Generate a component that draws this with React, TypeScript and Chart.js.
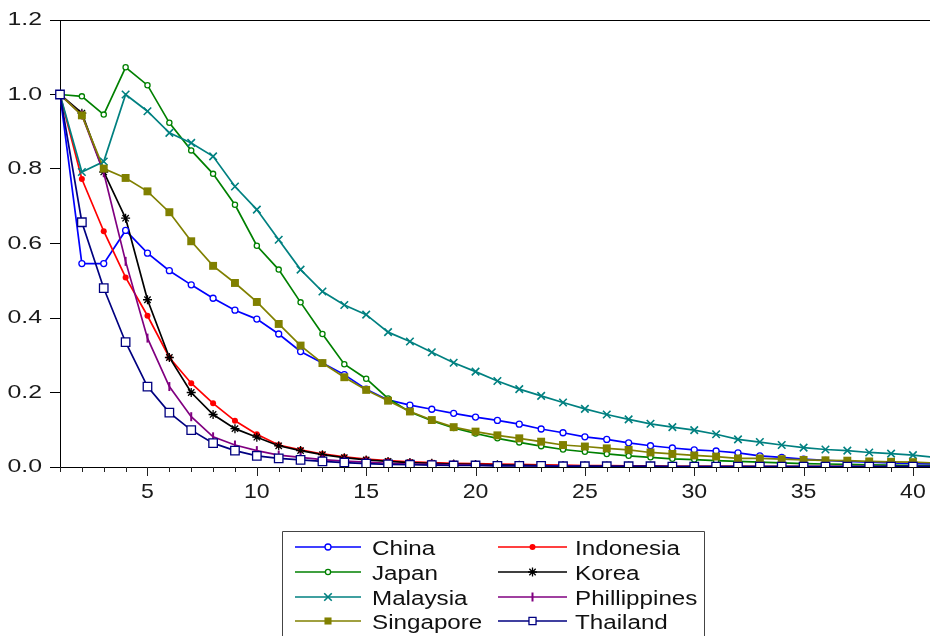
import React, { useEffect, useRef } from "react";
import { Chart, registerables } from "chart.js";

Chart.register(...registerables);

const xValues = [1, 2, 3, 4, 5, 6, 7, 8, 9, 10, 11, 12, 13, 14, 15, 16, 17, 18, 19, 20, 21, 22, 23, 24, 25, 26, 27, 28, 29, 30, 31, 32, 33, 34, 35, 36, 37, 38, 39, 40, 41];
const yTicks = [0, 0.2, 0.4, 0.6, 0.8, 1.0, 1.2];
const xLabelTicks = [5, 10, 15, 20, 25, 30, 35, 40];

const china = [1.0, 0.546, 0.546, 0.635, 0.574, 0.527, 0.489, 0.453, 0.421, 0.397, 0.357, 0.31, 0.279, 0.248, 0.209, 0.18, 0.166, 0.155, 0.144, 0.134, 0.125, 0.115, 0.102, 0.092, 0.081, 0.074, 0.065, 0.057, 0.051, 0.046, 0.043, 0.038, 0.03, 0.026, 0.021, 0.018, 0.015, 0.013, 0.011, 0.009, 0.008];
const indonesia = [1.0, 0.773, 0.633, 0.509, 0.406, 0.294, 0.225, 0.171, 0.124, 0.088, 0.059, 0.046, 0.035, 0.027, 0.021, 0.017, 0.014, 0.012, 0.01, 0.009, 0.008, 0.007, 0.006, 0.005, 0.004, 0.004, 0.003, 0.003, 0.002, 0.002, 0.002, 0.002, 0.001, 0.001, 0.001, 0.001, 0.001, 0.001, 0.001, 0.001, 0.0];
const japan = [1.0, 0.995, 0.946, 1.073, 1.025, 0.924, 0.85, 0.787, 0.704, 0.594, 0.53, 0.442, 0.357, 0.276, 0.237, 0.184, 0.148, 0.124, 0.105, 0.09, 0.077, 0.066, 0.056, 0.047, 0.041, 0.035, 0.03, 0.026, 0.022, 0.02, 0.017, 0.015, 0.013, 0.011, 0.009, 0.008, 0.007, 0.006, 0.005, 0.004, 0.004];
const korea = [1.0, 0.95, 0.792, 0.668, 0.449, 0.294, 0.2, 0.141, 0.103, 0.08, 0.057, 0.044, 0.033, 0.025, 0.019, 0.015, 0.012, 0.01, 0.008, 0.007, 0.006, 0.005, 0.004, 0.003, 0.003, 0.002, 0.002, 0.002, 0.001, 0.001, 0.001, 0.001, 0.001, 0.001, 0.001, 0.001, 0.001, 0.001, 0.001, 0.001, 0.001];
const malaysia = [1.0, 0.792, 0.82, 1.0, 0.955, 0.897, 0.87, 0.834, 0.753, 0.691, 0.61, 0.53, 0.471, 0.435, 0.409, 0.362, 0.337, 0.308, 0.28, 0.256, 0.231, 0.209, 0.191, 0.173, 0.156, 0.141, 0.128, 0.116, 0.107, 0.099, 0.088, 0.074, 0.067, 0.059, 0.052, 0.047, 0.044, 0.039, 0.036, 0.032, 0.026];
const philippines = [1.0, 0.945, 0.79, 0.552, 0.346, 0.216, 0.135, 0.081, 0.059, 0.044, 0.032, 0.026, 0.02, 0.016, 0.013, 0.01, 0.008, 0.007, 0.006, 0.005, 0.004, 0.004, 0.003, 0.003, 0.002, 0.002, 0.002, 0.002, 0.001, 0.001, 0.001, 0.001, 0.001, 0.001, 0.001, 0.001, 0.001, 0.001, 0.001, 0.001, 0.001];
const singapore = [1.0, 0.944, 0.801, 0.776, 0.74, 0.684, 0.606, 0.54, 0.494, 0.443, 0.384, 0.326, 0.279, 0.241, 0.207, 0.178, 0.149, 0.126, 0.107, 0.095, 0.085, 0.077, 0.068, 0.059, 0.055, 0.05, 0.046, 0.039, 0.035, 0.031, 0.028, 0.023, 0.023, 0.021, 0.019, 0.018, 0.017, 0.015, 0.014, 0.013, 0.011];
const thailand = [1.0, 0.657, 0.48, 0.335, 0.216, 0.146, 0.099, 0.064, 0.044, 0.03, 0.023, 0.019, 0.015, 0.012, 0.009, 0.007, 0.006, 0.005, 0.004, 0.004, 0.003, 0.003, 0.003, 0.002, 0.002, 0.002, 0.002, 0.002, 0.001, 0.001, 0.001, 0.001, 0.001, 0.001, 0.001, 0.001, 0.001, 0.001, 0.001, 0.001, 0.001];

type Marker = "circle" | "dot" | "star" | "crossRot" | "vline" | "fillRect" | "openRect";

const series: { name: string; values: number[]; color: string; marker: Marker; r: number }[] = [
  { name: "China", values: china, color: "#0000FF", marker: "circle", r: 3 },
  { name: "Indonesia", values: indonesia, color: "#FF0000", marker: "dot", r: 3 },
  { name: "Japan", values: japan, color: "#008000", marker: "circle", r: 2.6 },
  { name: "Korea", values: korea, color: "#000000", marker: "star", r: 4.5 },
  { name: "Malaysia", values: malaysia, color: "#008080", marker: "crossRot", r: 5 },
  { name: "Phillippines", values: philippines, color: "#800080", marker: "vline", r: 4.5 },
  { name: "Singapore", values: singapore, color: "#808000", marker: "fillRect", r: 5.6 },
  { name: "Thailand", values: thailand, color: "#000080", marker: "openRect", r: 6 },
];

const FONT = "'Liberation Sans', Arial, sans-serif";

function drawMarker(ctx: CanvasRenderingContext2D, m: Marker, x: number, y: number, r: number, color: string) {
  ctx.save();
  ctx.strokeStyle = color;
  ctx.fillStyle = color;
  ctx.lineWidth = 1.3;
  ctx.beginPath();
  if (m === "circle" || m === "dot") {
    ctx.arc(x, y, r, 0, Math.PI * 2);
    if (m === "circle") {
      ctx.fillStyle = "#fff";
      ctx.fill();
      ctx.stroke();
    } else {
      ctx.fill();
    }
  } else if (m === "star") {
    for (let k = 0; k < 4; k++) {
      const a = (k * Math.PI) / 4;
      ctx.moveTo(x - r * Math.cos(a), y - r * Math.sin(a));
      ctx.lineTo(x + r * Math.cos(a), y + r * Math.sin(a));
    }
    ctx.stroke();
  } else if (m === "crossRot") {
    const d = r * 0.75;
    ctx.lineWidth = 1.6;
    ctx.moveTo(x - d, y - d);
    ctx.lineTo(x + d, y + d);
    ctx.moveTo(x - d, y + d);
    ctx.lineTo(x + d, y - d);
    ctx.stroke();
  } else if (m === "vline") {
    ctx.lineWidth = 2;
    ctx.moveTo(x, y - r);
    ctx.lineTo(x, y + r);
    ctx.stroke();
  } else if (m === "fillRect") {
    const s = r * Math.SQRT1_2;
    ctx.rect(x - s, y - s, 2 * s, 2 * s);
    ctx.fill();
  } else if (m === "openRect") {
    const s = r * Math.SQRT1_2;
    ctx.rect(x - s, y - s, 2 * s, 2 * s);
    ctx.fillStyle = "#fff";
    ctx.fill();
    ctx.stroke();
  }
  ctx.restore();
}

// draw text horizontally stretched by sx; align: 'left' | 'right' | 'center'
function scaledText(ctx: CanvasRenderingContext2D, text: string, x: number, y: number, sx: number, align: string) {
  const w = ctx.measureText(text).width * sx;
  let left = x;
  if (align === "right") left = x - w;
  else if (align === "center") left = x - w / 2;
  ctx.save();
  ctx.translate(left, y);
  ctx.scale(sx, 1);
  ctx.textAlign = "left";
  ctx.fillText(text, 0, 0);
  ctx.restore();
}

const markerPlugin = {
  id: "customMarkers",
  afterDatasetsDraw(chart: any) {
    const ctx = chart.ctx as CanvasRenderingContext2D;
    const area = chart.chartArea;
    ctx.save();
    ctx.beginPath();
    ctx.rect(area.left - 6, area.top - 6, area.right - area.left + 12, area.bottom - area.top + 6);
    ctx.clip();
    series.forEach((s, i) => {
      const meta = chart.getDatasetMeta(i);
      meta.data.forEach((pt: any) => {
        if (pt.x <= area.right + 2) drawMarker(ctx, s.marker, pt.x, pt.y, s.r, s.color);
      });
    });
    ctx.restore();
  },
  afterDraw(chart: any) {
    const ctx = chart.ctx as CanvasRenderingContext2D;
    const area = chart.chartArea;
    const xs = chart.scales.x;
    const ys = chart.scales.y;
    ctx.save();
    // top frame line
    ctx.strokeStyle = "#000";
    ctx.lineWidth = 1;
    ctx.beginPath();
    ctx.moveTo(area.left - 10, area.top + 0.5);
    ctx.lineTo(chart.width, area.top + 0.5);
    ctx.stroke();
    // x tick marks
    ctx.beginPath();
    xValues.forEach((v) => {
      if (v > 40) return;
      const px = Math.round(xs.getPixelForValue(v)) + 0.5;
      const len = v % 5 === 0 ? 9 : 5;
      ctx.moveTo(px, area.bottom);
      ctx.lineTo(px, area.bottom + len);
    });
    ctx.strokeStyle = "#222";
    ctx.stroke();

    // tick labels
    ctx.fillStyle = "#1a1a1a";
    ctx.textBaseline = "alphabetic";
    ctx.font = `21px ${FONT}`;
    xLabelTicks.forEach((v) => {
      scaledText(ctx, String(v), xs.getPixelForValue(v), area.bottom + 31, 1.1, "center");
    });
    ctx.font = `18px ${FONT}`;
    yTicks.forEach((v) => {
      scaledText(ctx, v.toFixed(1), 42, ys.getPixelForValue(v) + 5, 1.38, "right");
    });

    // legend
    const boxL = 282.5, boxT = 531.5;
    ctx.beginPath();
    ctx.rect(boxL, boxT, 422, 130);
    ctx.strokeStyle = "#444";
    ctx.lineWidth = 1;
    ctx.stroke();
    const rows = [547, 572, 597, 621];
    const cols = [
      { l: 295, r: 361, t: 372 },
      { l: 498, r: 567, t: 575 },
    ];
    ctx.font = `20px ${FONT}`;
    ctx.textBaseline = "alphabetic";
    series.forEach((s, i) => {
      const c = cols[i % 2];
      const y = rows[Math.floor(i / 2)];
      ctx.beginPath();
      ctx.strokeStyle = s.color;
      ctx.lineWidth = 1.5;
      ctx.moveTo(c.l, y);
      ctx.lineTo(c.r, y);
      ctx.stroke();
      drawMarker(ctx, s.marker, (c.l + c.r) / 2, y, Math.min(s.r, 5), s.color);
      ctx.fillStyle = "#111";
      scaledText(ctx, s.name, c.t, y + 8, 1.21, "left");
    });
    ctx.restore();
  },
};

export default function App() {
  const ref = useRef<HTMLCanvasElement>(null);
  useEffect(() => {
    if (!ref.current) return;
    const chart = new Chart(ref.current, {
      type: "line",
      data: {
        datasets: series.map((s, i) => ({
          label: s.name,
          data: xValues.map((x, k) => ({ x, y: s.values[k] })),
          borderColor: s.color,
          backgroundColor: s.color,
          borderWidth: 1.7,
          pointRadius: 0,
          tension: 0,
          order: series.length - i,
        })),
      },
      options: {
        animation: false,
        responsive: false,
        devicePixelRatio: 1,
        layout: { padding: { top: 20, bottom: 129, left: 0, right: 0 } },
        plugins: { legend: { display: false }, tooltip: { enabled: false } },
        scales: {
          x: {
            type: "linear",
            min: 1,
            max: 40.78,
            afterBuildTicks: (scale: any) => {
              scale.ticks = xLabelTicks.map((v) => ({ value: v }));
            },
            afterFit: (scale: any) => {
              scale.height = 40;
            },
            grid: { display: false, drawTicks: false },
            border: { display: true, color: "#000", width: 1 },
            ticks: { display: false },
          },
          y: {
            min: 0,
            max: 1.2,
            afterBuildTicks: (scale: any) => {
              scale.ticks = yTicks.map((v) => ({ value: v }));
            },
            afterFit: (scale: any) => {
              scale.width = 60;
            },
            grid: { drawOnChartArea: false, drawTicks: true, tickLength: 10, color: "#000" },
            border: { display: true, color: "#000", width: 1 },
            ticks: { display: false },
          },
        },
      },
      plugins: [markerPlugin],
    });
    return () => chart.destroy();
  }, []);
  return (
    <div style={{ position: "fixed", left: 0, top: 0, width: 930, height: 636, background: "#fff", overflow: "hidden" }}>
      <canvas ref={ref} width={930} height={636} style={{ width: 930, height: 636, display: "block" }} />
    </div>
  );
}
